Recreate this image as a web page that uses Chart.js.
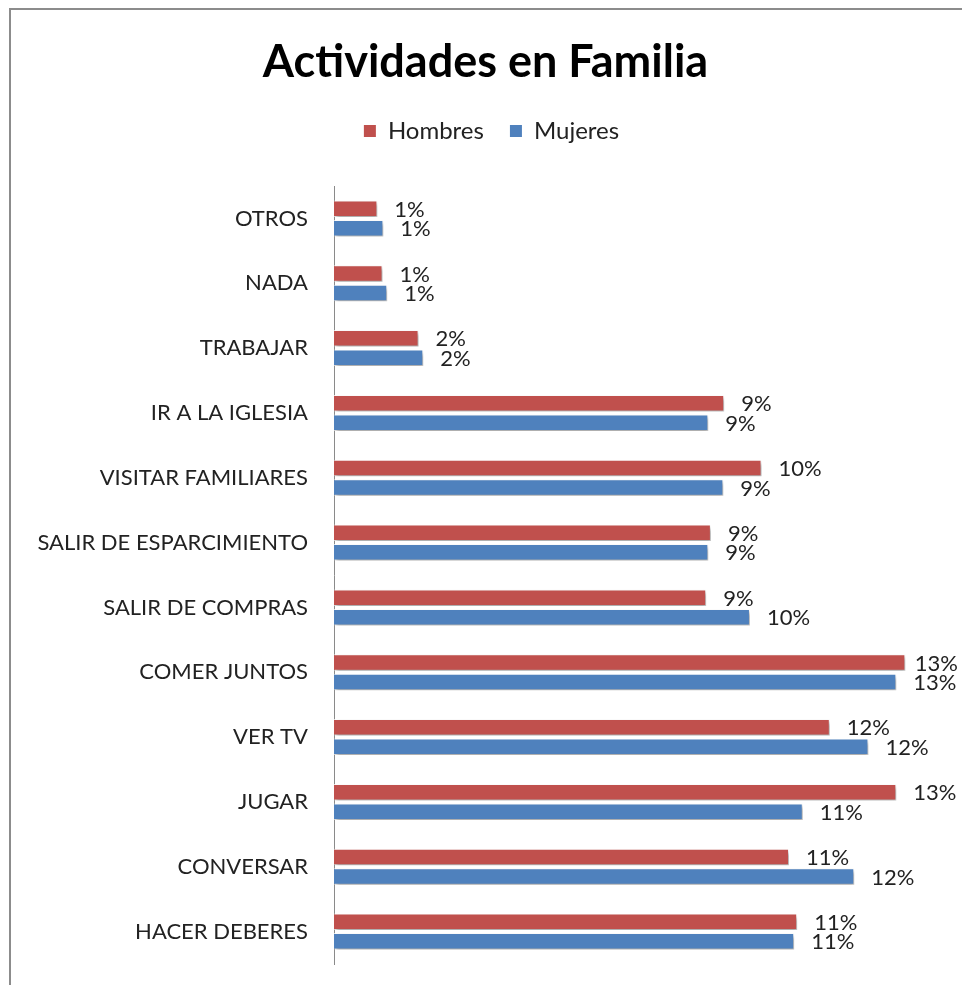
<!DOCTYPE html>
<html>
<head>
<meta charset="utf-8">
<script src="https://cdn.jsdelivr.net/npm/chart.js@4.4.0/dist/chart.umd.min.js"></script>
<style>
  html, body { margin: 0; padding: 0; background: #fff; overflow: hidden; }
  #frame { position: absolute; left: 9px; top: 8px; width: 1000px; height: 1000px;
           border-left: 2px solid #8c8c8c; border-top: 2px solid #8c8c8c; }
  #wrap { position: absolute; left: 9px; top: 9px; width: 953px; height: 976px; }
</style>
</head>
<body>
<div id="frame"></div>
<div id="wrap"><canvas id="chart"></canvas></div>
<script>
// Data (percent)
const categories = ['OTROS', 'NADA', 'TRABAJAR', 'IR A LA IGLESIA', 'VISITAR FAMILIARES',
  'SALIR DE ESPARCIMIENTO', 'SALIR DE COMPRAS', 'COMER JUNTOS', 'VER TV', 'JUGAR',
  'CONVERSAR', 'HACER DEBERES'];
const hombres = [1.01, 1.13, 1.97, 9.09, 9.96, 8.78, 8.67, 13.31, 11.55, 13.10, 10.60, 10.79];
const mujeres = [1.15, 1.24, 2.08, 8.72, 9.07, 8.72, 9.69, 13.10, 12.45, 10.92, 12.12, 10.72];

const FONT = 'Lato';

// soft drop shadow under the bars
const barShadow = {
  id: 'barShadow',
  beforeDatasetsDraw(chart) {
    const c = chart.ctx;
    c.save();
    c.shadowColor = 'rgba(0,0,0,0.35)';
    c.shadowBlur = 4;
    c.shadowOffsetX = 2;
    c.shadowOffsetY = 3;
  },
  afterDatasetsDraw(chart) {
    chart.ctx.restore();
  }
};

// value labels at the end of each bar
const barLabels = {
  id: 'barLabels',
  afterDatasetsDraw(chart) {
    const ctx = chart.ctx;
    ctx.save();
    ctx.font = '22px ' + FONT;
    ctx.fillStyle = '#222';
    ctx.textBaseline = 'middle';
    chart.data.datasets.forEach((ds, i) => {
      chart.getDatasetMeta(i).data.forEach((bar, j) => {
        const txt = Math.round(ds.data[j]) + '%';
        const w = ctx.measureText(txt).width;
        const x = Math.min(bar.x + 17, chart.width - 4 - w);
        ctx.fillText(txt, x, bar.y + 1);
      });
    });
    ctx.restore();
  }
};

// extra space under the legend, and nudge it a little to the right
const legendTweak = {
  id: 'legendTweak',
  beforeInit(chart) {
    const lg = chart.legend;
    const fit = lg.fit;
    lg.fit = function () {
      fit.call(this);
      this.height += 33;
    };
    const draw = lg.draw;
    lg.draw = function () {
      const c = this.ctx;
      c.save();
      c.translate(6, 0);
      draw.call(this);
      c.restore();
    };
  }
};

new Chart(document.getElementById('chart'), {
  type: 'bar',
  data: {
    labels: categories,
    datasets: [
      { label: 'Hombres', data: hombres, backgroundColor: '#C0504D',
        borderColor: 'rgba(255,255,255,0.7)', borderWidth: 1,
        categoryPercentage: 0.6, barPercentage: 0.85 },
      { label: 'Mujeres', data: mujeres, backgroundColor: '#4F81BD',
        borderColor: 'rgba(255,255,255,0.7)', borderWidth: 1,
        categoryPercentage: 0.6, barPercentage: 0.85 }
    ]
  },
  options: {
    indexAxis: 'y',
    responsive: true,
    maintainAspectRatio: false,
    animation: false,
    layout: { padding: { top: 0, right: 0, bottom: 21, left: 0 } },
    plugins: {
      title: {
        display: true,
        text: 'Actividades en Familia',
        color: '#000',
        font: { family: FONT, size: 45, weight: 'bold' },
        padding: { top: 26, bottom: 4 }
      },
      legend: {
        position: 'top',
        labels: {
          color: '#222',
          font: { family: FONT, size: 24 },
          boxWidth: 12,
          boxHeight: 12,
          padding: 26,
          generateLabels: (chart) =>
            Chart.defaults.plugins.legend.labels.generateLabels(chart)
              .map(l => ({ ...l, lineWidth: 0 }))
        }
      },
      tooltip: { enabled: false }
    },
    scales: {
      x: { display: false, min: 0, max: 14.63 },
      y: {
        grid: { display: false, drawTicks: false },
        border: { display: true, color: '#8a8a8a', width: 1 },
        ticks: { color: '#222', font: { family: FONT, size: 22 }, padding: 26 },
        afterFit(scale) {
          scale.width = 325;
          scale.paddingTop = 0;
          scale.paddingBottom = 0;
        }
      }
    }
  },
  plugins: [barShadow, barLabels, legendTweak]
});
</script>
</body>
</html>
